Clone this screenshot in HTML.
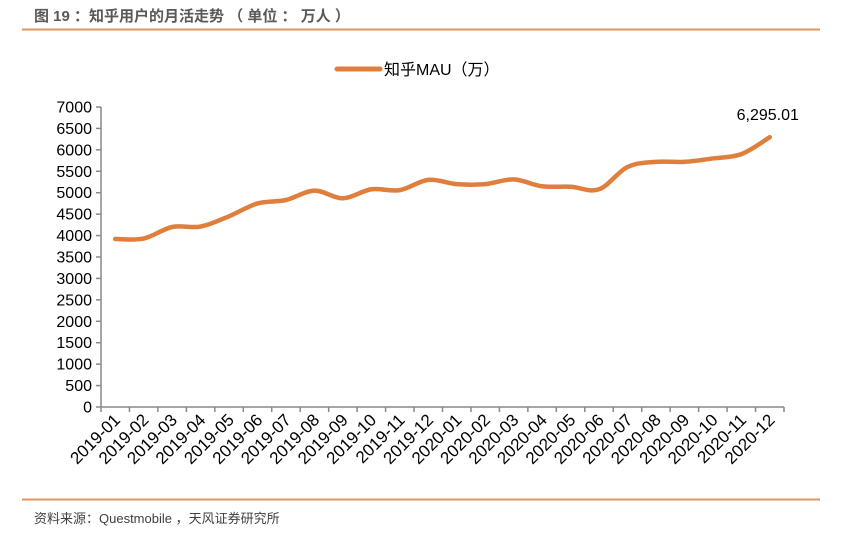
<!DOCTYPE html>
<html><head><meta charset="utf-8"><style>
body{margin:0;background:#fff;width:864px;height:537px;overflow:hidden;font-family:"Liberation Sans","Noto Sans CJK SC",sans-serif}
</style></head><body>
<svg width="864" height="537" style="position:absolute;left:0;top:0">
<text x="34" y="21" font-size="15" font-weight="bold" fill="#595959" font-family="Liberation Sans,Noto Sans CJK SC,sans-serif">图 19 ：知乎用户的月活走势 （ 单位 ： 万人 ）</text>
<line x1="22" y1="29.5" x2="820" y2="29.5" stroke="#e0955a" stroke-width="2"/>
<g>
<line x1="337" y1="69" x2="380" y2="69" stroke="#e07e3c" stroke-width="5" stroke-linecap="round"/>
<text x="384" y="75" font-size="16" fill="#000">知乎MAU（万）</text>
</g>
<g id="axes"></g>
<path id="line" fill="none" stroke="#e07e3c" stroke-width="4.5" stroke-linecap="round"/>
<text id="lastlbl" font-size="16" fill="#000" text-anchor="middle"></text>
<line x1="22" y1="499.5" x2="820" y2="499.5" stroke="#e0955a" stroke-width="2"/>
<text x="34" y="523" font-size="13" fill="#404040">资料来源：Questmobile ，天风证券研究所</text>
</svg>
<script>
const categories=["2019-01","2019-02","2019-03","2019-04","2019-05","2019-06","2019-07","2019-08","2019-09","2019-10","2019-11","2019-12","2020-01","2020-02","2020-03","2020-04","2020-05","2020-06","2020-07","2020-08","2020-09","2020-10","2020-11","2020-12"];
const mau=[3920,3930,4200,4210,4450,4750,4830,5050,4870,5080,5060,5300,5200,5200,5310,5150,5140,5080,5600,5720,5720,5800,5900,6295.01];
const yTicks=[0,500,1000,1500,2000,2500,3000,3500,4000,4500,5000,5500,6000,6500,7000];
const lastLabel="6,295.01";
const NS="http://www.w3.org/2000/svg";
const x0=101,x1=784,y0=407,y1=107,ymax=7000;
const step=(x1-x0)/categories.length;
const X=i=>x0+step*(i+0.5);
const Y=v=>y0-(v/ymax)*(y0-y1);
const ax=document.getElementById('axes');
function mk(t,a){const e=document.createElementNS(NS,t);for(const k in a)e.setAttribute(k,a[k]);ax.appendChild(e);return e;}
let e=mk('line',{x1:x0,y1:y1,x2:x0,y2:y0,stroke:'#888','stroke-width':1.5});


e=mk('line',{x1:x0,y1:y0,x2:x1,y2:y0,stroke:'#888','stroke-width':1.5});


yTicks.forEach(v=>{
 const y=Y(v);
 let t=mk('line',{x1:x0-5,y1:y,x2:x0,y2:y,stroke:'#888','stroke-width':1.5});
 
 
 let l=mk('text',{x:x0-9,y:y+5.5,'font-size':16,'text-anchor':'end',fill:'#000'});
 l.textContent=v;
 
 
});
for(let i=0;i<=categories.length;i++){
 let t=mk('line',{x1:x0+step*i,y1:y0,x2:x0+step*i,y2:y0+5,stroke:'#888','stroke-width':1.5});
 
 
}
categories.forEach((c,i)=>{
 const x=X(i)+6,y=y0+14;
 let l=mk('text',{x:x,y:y,'font-size':17,'text-anchor':'end',fill:'#000',transform:`rotate(-45 ${x} ${y})`});
 l.textContent=c;
 
 
});
const pts=mau.map((v,i)=>[X(i),Y(v)]);
let d=`M${pts[0][0]},${pts[0][1]}`;
for(let i=0;i<pts.length-1;i++){
 const p0=pts[Math.max(0,i-1)],p1=pts[i],p2=pts[i+1],p3=pts[Math.min(pts.length-1,i+2)];
 const c1=[p1[0]+(p2[0]-p0[0])/6,p1[1]+(p2[1]-p0[1])/6];
 const c2=[p2[0]-(p3[0]-p1[0])/6,p2[1]-(p3[1]-p1[1])/6];
 d+=` C${c1[0]},${c1[1]} ${c2[0]},${c2[1]} ${p2[0]},${p2[1]}`;
}
document.getElementById('line').setAttribute('d',d);
const ll=document.getElementById('lastlbl');
const li=mau.length-1;
ll.setAttribute('x',X(li)-2);
ll.setAttribute('y',Y(mau[li])-17);
ll.textContent=lastLabel;
</script>
</body></html>
